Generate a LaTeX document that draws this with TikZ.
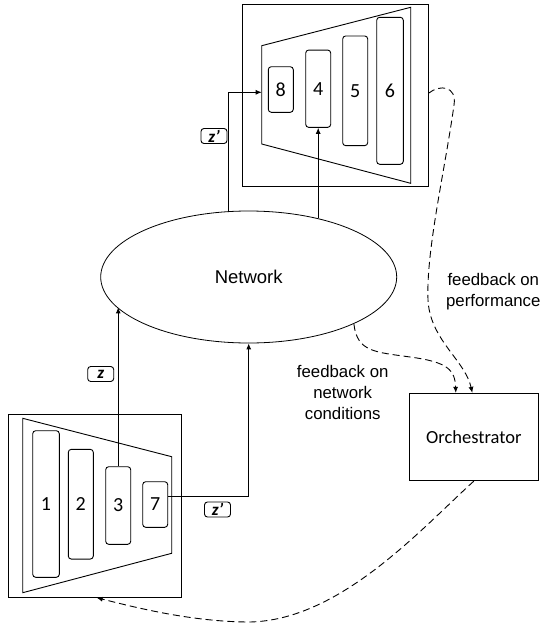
\documentclass[tikz,border=0pt]{standalone}
\usepackage{fontspec}
\setmainfont{Liberation Sans}
\newfontfamily\calfont{Carlito}
\usetikzlibrary{arrows.meta,shapes.geometric}

\begin{document}
\begin{tikzpicture}[x=1pt,y=-1pt,line width=0.9pt,
  frame/.style={draw,rectangle,inner sep=0pt},
  layer/.style={draw,rectangle,rounded corners=3pt,inner sep=0pt,minimum width=25pt,
    font=\calfont\fontsize{20}{24}\selectfont},
  tag/.style={draw,rectangle,rounded corners=3pt,inner sep=0pt,minimum width=26pt,
    minimum height=15pt,font=\calfont\bfseries\itshape\fontsize{17}{20}\selectfont},
  link/.style={-{Latex[length=6pt,width=5pt]}},
  fb/.style={dash pattern=on 7pt off 4pt,-{Latex[length=6pt,width=5pt]}},
  note/.style={align=center,font=\fontsize{16.8}{21}\selectfont}]
\useasboundingbox (0,0) rectangle (544,629);

% receiving device (top)
\node[frame,minimum width=186pt,minimum height=182pt] (topbox) at (335,95) {};
\draw (261.7,45.7) -- (410.7,7.3) -- (410.7,183.3) -- (261.7,144) -- cycle;
\coordinate (topin) at (261.7,92.3);
\node[layer,minimum height=45.6pt] (b8) at (280.8,89.5) {8};
\node[layer,minimum height=77.3pt] (b4) at (318.2,88.7) {4};
\node[layer,minimum height=109.7pt] (b5) at (355.2,90.8) {5};
\node[layer,minimum width=26.6pt,minimum height=147pt] (b6) at (390,90.8) {6};

% sending device (bottom)
\node[frame,minimum width=173.4pt,minimum height=183pt] (botbox) at (95,505.8) {};
\draw (22.7,418.3) -- (171.7,456.7) -- (171.7,553.3) -- (22.7,592.7) -- cycle;
\node[layer,minimum width=26.6pt,minimum height=146.6pt] (b1) at (46,504) {1};
\node[layer,minimum height=109.7pt] (b2) at (80.8,504.2) {2};
\node[layer,minimum height=77.6pt] (b3) at (118.2,505.5) {3};
\node[layer,minimum height=45.6pt] (b7) at (155.2,504.5) {7};

% network and orchestrator
\node[draw,ellipse,line width=0.8pt,inner sep=0pt,minimum width=296pt,minimum height=132pt,
  font=\fontsize{18.5}{22}\selectfont] (net) at (248.7,277) {Network};
\node[frame,minimum width=129pt,minimum height=87.4pt,
  font=\calfont\fontsize{18.5}{22}\selectfont] (orch) at (473.8,437) {Orchestrator};

% data paths
\draw[link] (b3.north) -- (b3.north |- net.193.5);
\node[tag] (tz) at (100.7,374) {z};
\draw[link] ([yshift=7.8pt]b7.east) -| (net.south);
\node[tag] (tz2) at (217.5,509.5) {z’};
\draw[link] (net.107.3) |- (topin);
\node[tag] (tz3) at (214,136) {z’};
\draw[link] (b4.south |- net.40) -- (b4.south);

% feedback and control
\draw[fb] (net.336.6) .. controls (357,352) and (375,352) .. (410,357)
  .. controls (448,362) and (455,370) .. ([xshift=-18pt]orch.north);
\draw[fb] ([yshift=1.7pt]topbox.east) .. controls (440,84) and (457,86) .. (454,105)
  .. controls (445,170) and (426,250) .. (428,300)
  .. controls (430,340) and (465,360) .. ([xshift=-1.5pt]orch.north);
\draw[fb] (orch.south) .. controls (420,530) and (340,620) .. (250,622)
  .. controls (190,622) and (130,606) .. ([xshift=1.7pt]botbox.south);

\node[note] (fbnet) at (342.7,392) {feedback on\\network\\conditions};
\node[note] (fbperf) at (493.3,292) {feedback on\\performance};
\end{tikzpicture}
\end{document}
